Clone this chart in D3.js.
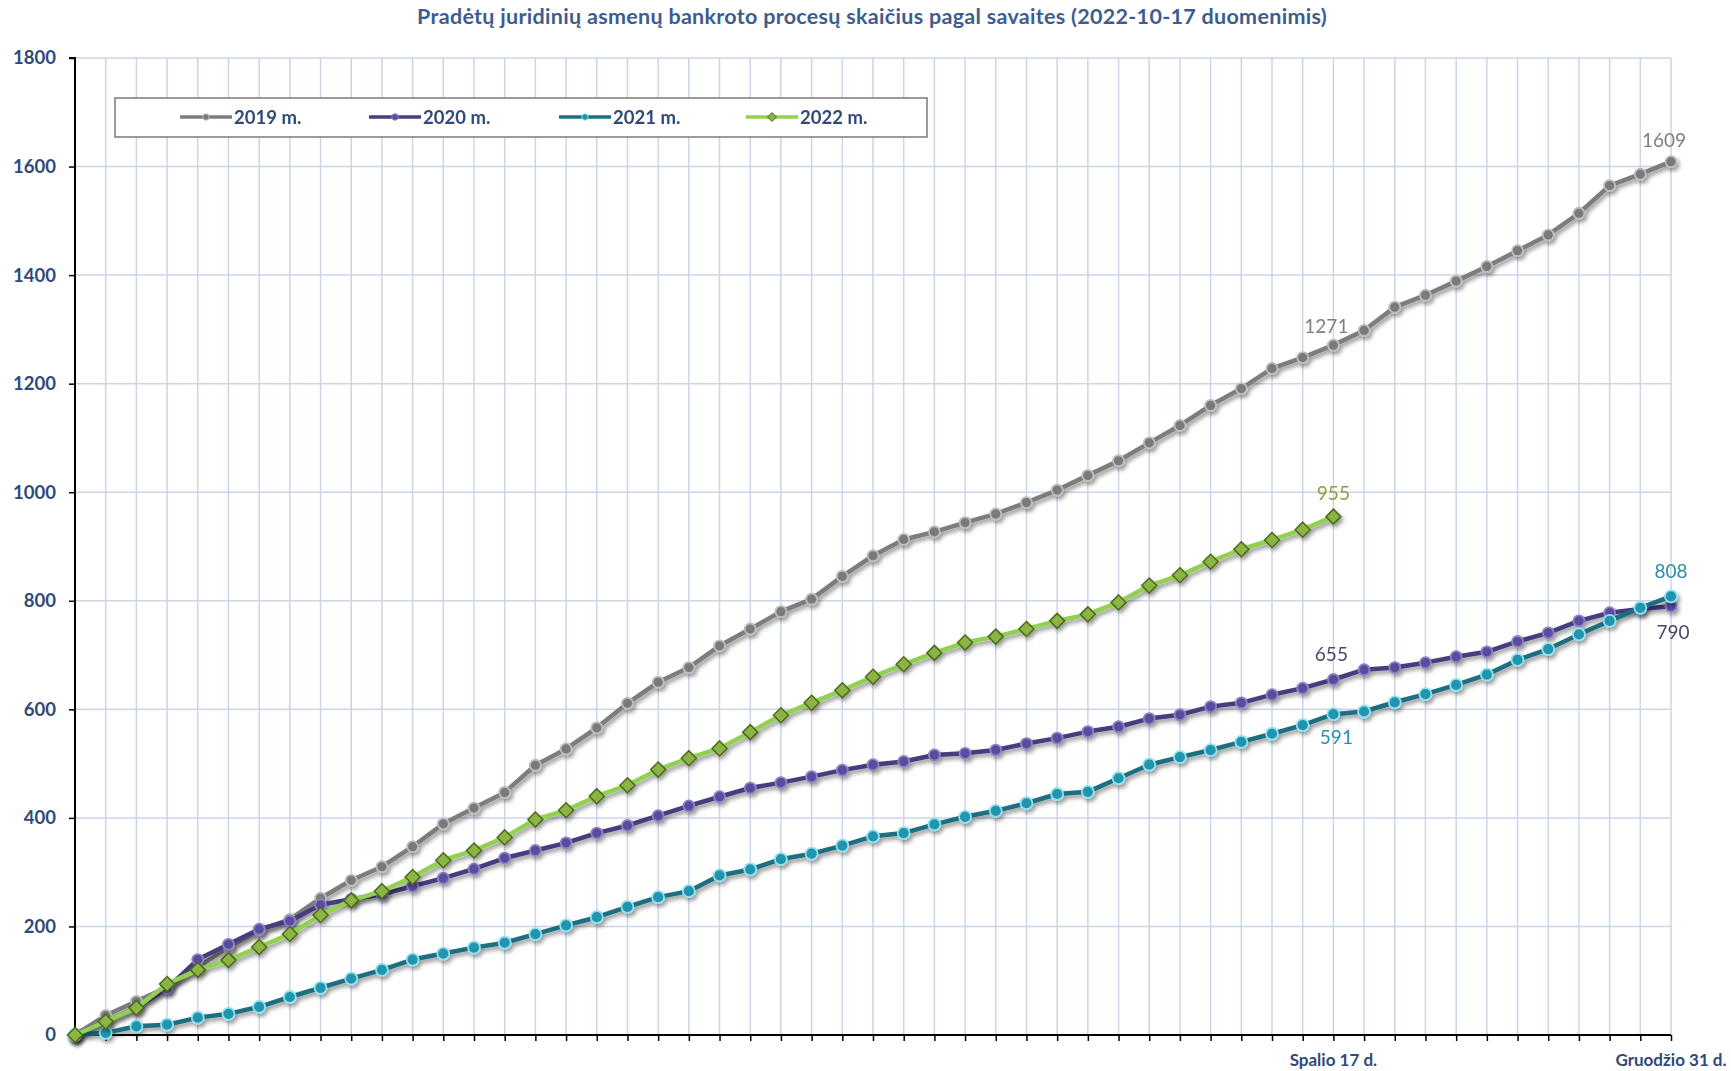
<!DOCTYPE html>
<html>
<head>
<meta charset="utf-8">
<script src="https://cdn.jsdelivr.net/npm/d3@7"></script>
<style>
  html, body { margin: 0; padding: 0; background: #ffffff; }
  svg { display: block; }
</style>
</head>
<body>
<svg id="chart" width="1731" height="1071"></svg>
<script>
// ---------- DATA ----------
const titleText = "Pradėtų juridinių asmenų bankroto procesų skaičius pagal savaites (2022-10-17 duomenimis)";
const weeks = d3.range(0, 53); // week index 0..52
const yTicks = [0, 200, 400, 600, 800, 1000, 1200, 1400, 1600, 1800];
const xLabelWeeks = [41, 52];
const xLabelTexts = ["Spalio 17 d.", "Gruodžio 31 d."];
const seriesNames = ["2019 m.", "2020 m.", "2021 m.", "2022 m."];

const values2019 = [0, 36, 62, 88, 125, 162, 193, 213, 252, 285, 310, 347, 389, 418, 447, 497, 527, 566, 611, 650,
  677, 717, 748, 780, 803, 845, 883, 913, 927, 944, 960, 981, 1004, 1031, 1058, 1091, 1123, 1160, 1191, 1228,
  1248, 1271, 1298, 1341, 1363, 1389, 1416, 1445, 1474, 1514, 1565, 1586, 1609];
const values2020 = [0, 25, 50, 86, 139, 167, 195, 210, 240, 250, 259, 274, 289, 306, 326, 340, 354, 372, 386, 404,
  422, 439, 455, 465, 476, 488, 498, 504, 516, 519, 525, 537, 547, 559, 568, 583, 590, 605, 612, 627,
  639, 655, 673, 677, 686, 697, 706, 725, 741, 763, 778, 785, 790];
const values2021 = [0, 4, 16, 19, 32, 39, 52, 70, 87, 104, 120, 139, 150, 161, 170, 186, 202, 217, 236, 254,
  265, 294, 305, 324, 334, 349, 366, 372, 388, 402, 413, 427, 444, 448, 473, 498, 512, 525, 540, 555,
  571, 591, 596, 613, 628, 645, 664, 691, 711, 738, 763, 787, 808];
const values2022 = [0, 25, 50, 94, 120, 138, 162, 186, 221, 248, 265, 291, 322, 340, 364, 397, 414, 440, 460, 489,
  510, 528, 558, 589, 612, 635, 660, 683, 704, 723, 734, 748, 763, 775, 797, 828, 847, 872, 895, 912,
  931, 955];

// value labels: [series index, week index, text]
const labelSeries = [0, 0, 3, 1, 2, 2, 1];
const labelWeeks  = [41, 52, 41, 41, 41, 52, 52];
const labelTexts  = ["1271", "1609", "955", "655", "591", "808", "790"];

// ---------- STYLE ----------
const W = 1731, H = 1071;
const textBlue = "#2f4a78";
const fontFam = "Lato, 'Open Sans', sans-serif";
const styles = [
  { line: "#7d7d7d", fill: "#7a7a7a", stroke: "#bdbdbd", shape: "circle", r: 5.5, lw: 4.5, label: "#7f7f7f" },
  { line: "#453e80", fill: "#5a4c9e", stroke: "#8d83c4", shape: "circle", r: 5.5, lw: 4.5, label: "#4a4a68" },
  { line: "#1e6e80", fill: "#2194ad", stroke: "#8fe2f2", shape: "circle", r: 6,   lw: 4.5, label: "#2a8fa8" },
  { line: "#92d050", fill: "#8cb444", stroke: "#4c6a1c", shape: "diamond", r: 7.5, lw: 4.5, label: "#8aa23c" }
];
const labelDx = [-7, -7, 0, -2, 3, 0, 2];
const labelDy = [-12, -15, -17, -18, 30, -18, 33];

const svg = d3.select("#chart");
const defs = svg.append("defs");
const f = defs.append("filter").attr("id", "shadow").attr("x", "-20%").attr("y", "-20%").attr("width", "140%").attr("height", "140%");
f.append("feDropShadow").attr("dx", 2).attr("dy", 3).attr("stdDeviation", 2.2).attr("flood-color", "#000").attr("flood-opacity", 0.42);

const x = d3.scaleLinear().domain([0, 52]).range([75, 1671]);
const y = d3.scaleLinear().domain([0, 1800]).range([1035, 58]);

// Title
svg.append("text")
  .attr("x", 872).attr("y", 24)
  .attr("text-anchor", "middle")
  .attr("font-family", fontFam)
  .attr("font-weight", "bold")
  .attr("font-size", 21.5)
  .attr("letter-spacing", 0.3)
  .attr("fill", "#3d5d8e")
  .text(titleText);

// Grid
const grid = svg.append("g");
grid.selectAll("line.v").data(weeks.slice(1)).join("line")
  .attr("x1", d => x(d)).attr("x2", d => x(d))
  .attr("y1", y(1800)).attr("y2", y(0))
  .attr("stroke", "#cbd5e8").attr("stroke-width", 1.5);
grid.selectAll("line.h").data(yTicks.slice(1)).join("line")
  .attr("x1", x(0)).attr("x2", x(52))
  .attr("y1", d => y(d)).attr("y2", d => y(d))
  .attr("stroke", "#cbd5e8").attr("stroke-width", 1.5);

// Y axis
const yAxis = svg.append("g").attr("transform", `translate(${x(0)},0)`)
  .call(d3.axisLeft(y).tickValues(yTicks).tickSize(6).tickPadding(13).tickFormat(d3.format("d")));
yAxis.select(".domain").attr("stroke", "#000").attr("stroke-width", 2).attr("d", `M-6,${y(1800)}H0V${y(0)}`);
yAxis.selectAll(".tick line").attr("stroke", "#000").attr("stroke-width", 1.5);
yAxis.selectAll(".tick text")
  .attr("font-family", fontFam)
  .attr("font-weight", "bold").attr("font-size", 18.5).attr("fill", textBlue);

// X axis
const xAxis = svg.append("g").attr("transform", `translate(0,${y(0)})`)
  .call(d3.axisBottom(x).tickValues(weeks).tickSize(6).tickFormat(""));
xAxis.select(".domain").attr("stroke", "#000").attr("stroke-width", 2).attr("d", `M${x(0)},0H${x(52)}`);
xAxis.selectAll(".tick line").attr("stroke", "#000").attr("stroke-width", 1.5);

svg.append("g").selectAll("text").data(xLabelWeeks).join("text")
  .attr("x", d => x(d)).attr("y", 1066)
  .attr("text-anchor", "middle")
  .attr("font-family", fontFam)
  .attr("font-weight", "bold").attr("font-size", 17).attr("fill", textBlue)
  .text((d, i) => xLabelTexts[i]);

// Series
const allValues = [values2019, values2020, values2021, values2022];
const line = d3.line().x((d, i) => x(i)).y(d => y(d));
const diamond = r => `M0,${-r}L${r},0L0,${r}L${-r},0Z`;

allValues.forEach((vals, si) => {
  const st = styles[si];
  const g = svg.append("g").attr("filter", "url(#shadow)");
  g.append("path").datum(vals)
    .attr("d", line)
    .attr("fill", "none")
    .attr("stroke", st.line)
    .attr("stroke-width", st.lw)
    .attr("stroke-linejoin", "round");
  if (st.shape === "circle") {
    g.selectAll("circle").data(vals).join("circle")
      .attr("cx", (d, i) => x(i)).attr("cy", d => y(d)).attr("r", st.r)
      .attr("fill", st.fill).attr("stroke", st.stroke).attr("stroke-width", 1.8);
  } else {
    g.selectAll("path.m").data(vals).join("path")
      .attr("class", "m")
      .attr("transform", (d, i) => `translate(${x(i)},${y(d)})`)
      .attr("d", diamond(st.r))
      .attr("fill", st.fill).attr("stroke", st.stroke).attr("stroke-width", 1.5);
  }
});

// Value labels
svg.append("g").selectAll("text").data(labelTexts).join("text")
  .attr("x", (d, i) => x(labelWeeks[i]) + labelDx[i])
  .attr("y", (d, i) => y(allValues[labelSeries[i]][labelWeeks[i]]) + labelDy[i])
  .attr("text-anchor", "middle")
  .attr("font-family", fontFam)
  .attr("font-size", 19)
  .attr("fill", (d, i) => styles[labelSeries[i]].label)
  .text(d => d);

// Legend
const lg = svg.append("g");
lg.append("rect").attr("x", 115).attr("y", 98).attr("width", 812).attr("height", 39)
  .attr("fill", "#fff").attr("stroke", "#7a7a7a").attr("stroke-width", 1.5);
const legendX = [180, 369, 559, 746];
seriesNames.forEach((name, si) => {
  const st = styles[si];
  const gx = legendX[si];
  const it = lg.append("g").attr("transform", `translate(${gx},117)`);
  it.append("line").attr("x1", 0).attr("x2", 52).attr("y1", 0).attr("y2", 0)
    .attr("stroke", st.line).attr("stroke-width", 3.5);
  if (st.shape === "circle") {
    it.append("circle").attr("cx", 26).attr("cy", 0).attr("r", 3.2)
      .attr("fill", st.fill).attr("stroke", st.stroke).attr("stroke-width", 1);
  } else {
    it.append("path").attr("transform", "translate(26,0)").attr("d", diamond(4.5))
      .attr("fill", st.fill).attr("stroke", st.stroke).attr("stroke-width", 1);
  }
  it.append("text").attr("x", 54).attr("y", 6.5)
    .attr("font-family", fontFam)
    .attr("font-weight", "bold").attr("font-size", 18.5).attr("fill", textBlue)
    .text(name);
});
</script>
</body>
</html>
